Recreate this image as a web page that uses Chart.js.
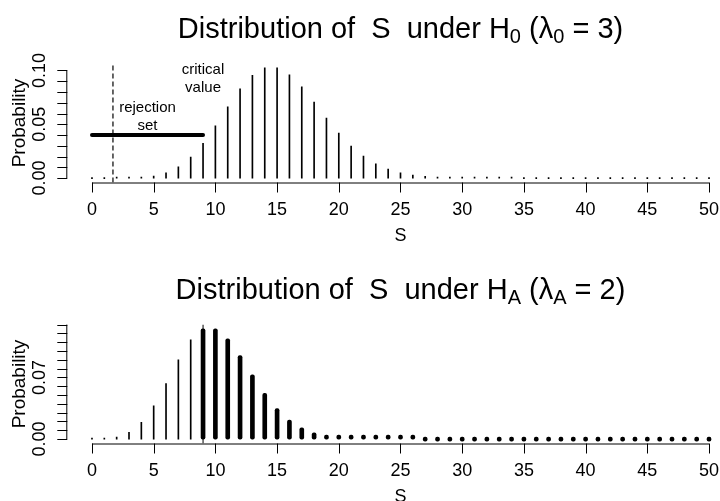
<!DOCTYPE html>
<html lang="en">
<head>
<meta charset="UTF-8">
<title>Distribution of S</title>
<style>
  body { margin: 0; background: #fff; }
  #wrap { position: relative; width: 720px; height: 501px; overflow: hidden; }
  #wrap canvas { position: absolute; left: 0; }
</style>
<script src="https://cdn.jsdelivr.net/npm/chart.js"></script>
</head>
<body>
<div id="wrap">
  <canvas id="chartH0" width="720" height="261" style="top:0"></canvas>
  <canvas id="chartHA" width="720" height="261" style="top:261px"></canvas>
</div>
<script>
// values of S shown on the x axis
var sValues = [0, 1, 2, 3, 4, 5, 6, 7, 8, 9, 10, 11, 12, 13, 14, 15, 16, 17, 18, 19, 20,
  21, 22, 23, 24, 25, 26, 27, 28, 29, 30, 31, 32, 33, 34, 35, 36, 37, 38, 39, 40,
  41, 42, 43, 44, 45, 46, 47, 48, 49, 50];

// probabilities (H0)
var probH0 = [0.00000, 0.00000, 0.00003, 0.00017, 0.00065, 0.00194, 0.00484, 0.01037, 0.01944, 0.03241,
  0.04861, 0.06629, 0.08286, 0.09561, 0.10244, 0.10244, 0.09603, 0.08474, 0.07061, 0.05575,
  0.04181, 0.02986, 0.02036, 0.01328, 0.00830, 0.00498, 0.00287, 0.00160, 0.00086, 0.00044,
  0.00022, 0.00011, 0.00005, 0.00002, 0.00001, 0, 0, 0, 0, 0,
  0, 0, 0, 0, 0, 0, 0, 0, 0, 0, 0];

// probabilities (HA)
var probHA = [0.00005, 0.00045, 0.00227, 0.00757, 0.01892, 0.03783, 0.06306, 0.09008, 0.11260, 0.12511,
  0.12511, 0.11374, 0.09478, 0.07291, 0.05208, 0.03472, 0.02170, 0.01276, 0.00709, 0.00373,
  0.00187, 0.00089, 0.00040, 0.00018, 0.00007, 0.00003, 0.00001, 0, 0, 0,
  0, 0, 0, 0, 0, 0, 0, 0, 0, 0,
  0, 0, 0, 0, 0, 0, 0, 0, 0, 0, 0];

var criticalValue = 9;
var rejectionLevel = 0.04;
var dashedAt = 1.7;

var xTickValues = [0, 5, 10, 15, 20, 25, 30, 35, 40, 45, 50];
var yTicksH0 = [0, 0.01, 0.02, 0.03, 0.04, 0.05, 0.06, 0.07, 0.08, 0.09, 0.10];
var yLabelsH0 = [0, 0.05, 0.10];
var yTicksHA = [0, 0.01, 0.02, 0.03, 0.04, 0.05, 0.06, 0.07, 0.08, 0.09, 0.10, 0.11, 0.12, 0.13];
var yLabelsHA = [0, 0.07];

var titleH0 = [['Distribution of  S  under H', 0], ['0', 1], [' (\u03bb', 0], ['0', 1], [' = 3)', 0]];
var titleHA = [['Distribution of  S  under H', 0], ['A', 1], [' (\u03bb', 0], ['A', 1], [' = 2)', 0]];

var FONT = '"Liberation Sans", Arial, sans-serif';

function pts(xs, ys) {
  var out = [];
  for (var i = 0; i < xs.length; i++) out.push({x: xs[i], y: ys[i]});
  return out;
}

function drawTitle(ctx, pieces, cx, baseline) {
  var total = 0;
  pieces.forEach(function(p) {
    ctx.font = (p[1] ? '20px ' : '29px ') + FONT;
    total += ctx.measureText(p[0]).width;
  });
  var x = cx - total / 2;
  ctx.textAlign = 'left';
  ctx.textBaseline = 'alphabetic';
  pieces.forEach(function(p) {
    ctx.font = (p[1] ? '20px ' : '29px ') + FONT;
    ctx.fillText(p[0], x, baseline + (p[1] ? 5 : 0));
    x += ctx.measureText(p[0]).width;
  });
}

// R style axes: lines only span the ticks, labels rotated on the y axis
function rAxes(title, yTicks, yLabels, notes) {
  return {
    id: 'rAxes',
    afterDraw: function(chart) {
      var ctx = chart.ctx, xs = chart.scales.x, ys = chart.scales.y, area = chart.chartArea;
      var left = area.left, bottom = area.bottom;
      var mid = (xs.getPixelForValue(-2) + xs.getPixelForValue(52)) / 2;
      ctx.save();
      ctx.strokeStyle = '#000';
      ctx.fillStyle = '#000';
      ctx.lineWidth = 1;

      // x axis
      ctx.beginPath();
      ctx.moveTo(xs.getPixelForValue(xTickValues[0]), bottom + 0.5);
      ctx.lineTo(xs.getPixelForValue(xTickValues[xTickValues.length - 1]), bottom + 0.5);
      xTickValues.forEach(function(v) {
        var px = Math.round(xs.getPixelForValue(v)) + 0.5;
        ctx.moveTo(px, bottom);
        ctx.lineTo(px, bottom + 10);
      });
      ctx.stroke();
      ctx.font = '18px ' + FONT;
      ctx.textAlign = 'center';
      ctx.textBaseline = 'middle';
      xTickValues.forEach(function(v) {
        ctx.fillText(String(v), xs.getPixelForValue(v), bottom + 28);
      });
      ctx.fillText('S', mid, bottom + 54);

      // y axis
      ctx.beginPath();
      ctx.moveTo(left - 0.5, ys.getPixelForValue(yTicks[0]));
      ctx.lineTo(left - 0.5, ys.getPixelForValue(yTicks[yTicks.length - 1]));
      yTicks.forEach(function(v) {
        var py = Math.round(ys.getPixelForValue(v)) + 0.5;
        ctx.moveTo(left, py);
        ctx.lineTo(left - 10, py);
      });
      ctx.stroke();
      yLabels.forEach(function(v) {
        ctx.save();
        ctx.translate(left - 27, ys.getPixelForValue(v));
        ctx.rotate(-Math.PI / 2);
        ctx.fillText(v.toFixed(2), 0, 0);
        ctx.restore();
      });
      ctx.save();
      ctx.font = '19px ' + FONT;
      ctx.translate(left - 48, (area.top + area.bottom) / 2);
      ctx.rotate(-Math.PI / 2);
      ctx.fillText('Probability', 0, 0);
      ctx.restore();

      // text notes inside the plot
      ctx.font = '15px ' + FONT;
      notes.forEach(function(n) {
        var px = xs.getPixelForValue(n.x), py = ys.getPixelForValue(n.y);
        ctx.fillText(n.lines[0], px, py - 9);
        ctx.fillText(n.lines[1], px, py + 9);
      });

      drawTitle(ctx, title, mid, 38);
      ctx.restore();
    }
  };
}

var common = {
  responsive: false,
  animation: false,
  layout: {padding: {left: 67.3, right: 0, top: 63.5, bottom: 78.5}},
  plugins: {legend: {display: false}, tooltip: {enabled: false}},
  datasets: {bar: {grouped: false}}
};

// upper panel
new Chart(document.getElementById('chartH0'), {
  type: 'bar',
  data: {
    datasets: [
      {
        type: 'line',
        data: [{x: dashedAt, y: -0.0041}, {x: dashedAt, y: 0.1065}],
        borderColor: '#000', borderWidth: 1.2, borderDash: [5, 3], pointRadius: 0
      },
      {
        type: 'line',
        data: [{x: 0, y: rejectionLevel}, {x: criticalValue, y: rejectionLevel}],
        borderColor: '#000', borderWidth: 4, borderCapStyle: 'round', pointRadius: 0
      },
      {
        data: pts(sValues, probH0),
        backgroundColor: '#000', barThickness: 1, minBarLength: 1
      }
    ]
  },
  options: Object.assign({}, common, {
    scales: {
      x: {type: 'linear', min: -2, max: 50.89, offset: false, display: false},
      y: {min: -0.0041, max: 0.1065, display: false}
    }
  }),
  plugins: [rAxes(titleH0, yTicksH0, yLabelsH0, [
    {x: 4.5, y: 0.057, lines: ['rejection', 'set']},
    {x: 9, y: 0.092, lines: ['critical', 'value']}
  ])]
});

// lower panel
var thinHA = sValues.filter(function(s) { return s < criticalValue; });
var thickHA = sValues.filter(function(s) { return s >= criticalValue; });

new Chart(document.getElementById('chartHA'), {
  type: 'bar',
  data: {
    datasets: [
      {
        type: 'line',
        data: [{x: criticalValue, y: -0.005}, {x: criticalValue, y: 0.1301}],
        borderColor: '#000', borderWidth: 1, pointRadius: 0
      },
      {
        data: thinHA.map(function(s) { return {x: s, y: probHA[s]}; }),
        backgroundColor: '#000', barThickness: 1, minBarLength: 1
      },
      {
        data: thickHA.map(function(s) { return {x: s, y: probHA[s]}; }),
        backgroundColor: '#000', barThickness: 4, minBarLength: 4,
        borderRadius: 2, borderSkipped: false
      }
    ]
  },
  options: Object.assign({}, common, {
    scales: {
      x: {type: 'linear', min: -2, max: 50.89, offset: false, display: false},
      y: {min: -0.005, max: 0.1301, display: false}
    }
  }),
  plugins: [rAxes(titleHA, yTicksHA, yLabelsHA, [])]
});
</script>
</body>
</html>
